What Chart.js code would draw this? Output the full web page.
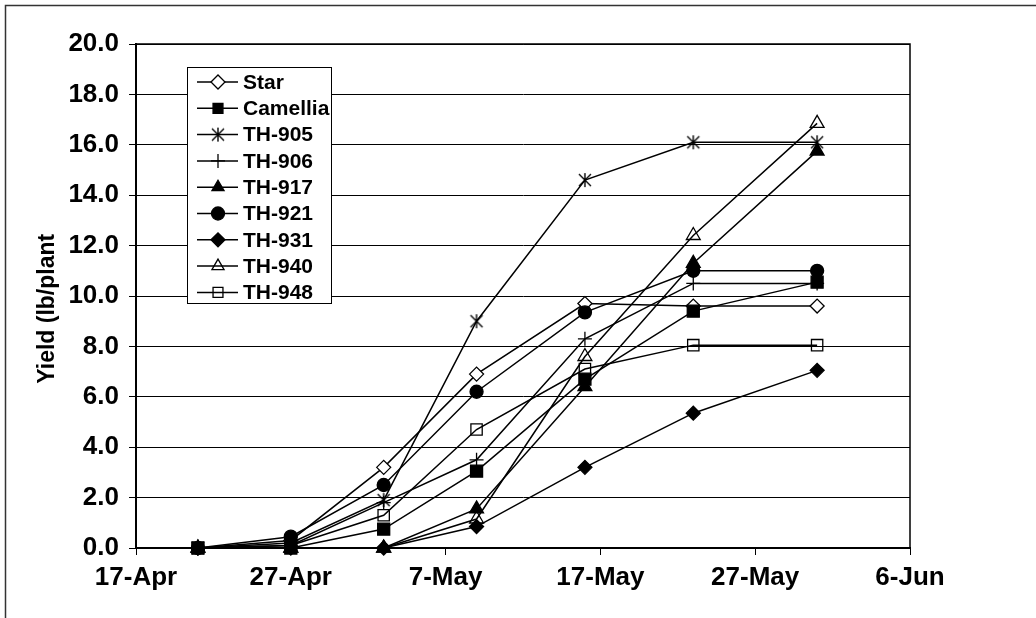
<!DOCTYPE html>
<html>
<head>
<meta charset="utf-8">
<script src="https://cdn.jsdelivr.net/npm/chart.js@4.4.0/dist/chart.umd.min.js"></script>
<style>
  html, body { margin: 0; padding: 0; background: #fff; }
  canvas { display: block; }
</style>
</head>
<body>
<canvas id="yieldChart" width="1036" height="618"></canvas>
<script>
// Harvest dates and cumulative yield per variety (lb/plant)
const sampleDates = ['21-Apr', '27-Apr', '3-May', '9-May', '16-May', '23-May', '31-May'];
const tickLabels = ['17-Apr', '27-Apr', '7-May', '17-May', '27-May', '6-Jun'];
const yTicks = [0, 2, 4, 6, 8, 10, 12, 14, 16, 18, 20];

const star     = [0, 0.3, 3.2, 6.9, 9.7, 9.6, 9.6];
const camellia = [0, 0, 0.75, 3.05, 6.7, 9.4, 10.55];
const th905    = [0, 0.2, 1.9, 9.0, 14.6, 16.1, 16.1];
const th906    = [0, 0.1, 1.8, 3.5, 8.3, 10.5, 10.5];
const th917    = [0, 0, 0, 1.55, 6.4, 11.3, 15.75];
const th921    = [0, 0.45, 2.5, 6.2, 9.35, 11.0, 11.0];
const th931    = [0, 0, 0, 0.85, 3.2, 5.35, 7.05];
const th940    = [0, 0, 0, 1.15, 7.6, 12.4, 16.85];
const th948    = [0, 0.1, 1.3, 4.7, 7.1, 8.05, 8.05];

// days counted from 17-Apr
function dayOffset(label) {
    const [d, m] = label.split('-');
    const monthStart = { Apr: 0, May: 30, Jun: 61 };
    return monthStart[m] + Number(d) - 17;
}
const xDays = sampleDates.map(dayOffset);
const xMax = dayOffset(tickLabels[tickLabels.length - 1]);

// Excel style asterisk: X plus a vertical stroke
function asteriskMarker() {
    const c = document.createElement('canvas');
    c.width = 16; c.height = 16;
    const g = c.getContext('2d');
    g.strokeStyle = '#000';
    g.lineWidth = 1.4;
    g.beginPath();
    g.moveTo(2, 2); g.lineTo(14, 14);
    g.moveTo(14, 2); g.lineTo(2, 14);
    g.moveTo(8, 1); g.lineTo(8, 15);
    g.stroke();
    return c;
}

const NONE = 'rgba(0,0,0,0)';
const series = [
    { label: 'Star',     data: star,     style: 'rectRot',  fill: '#fff', r: 7 },
    { label: 'Camellia', data: camellia, style: 'rect',     fill: '#000', r: 8.5 },
    { label: 'TH-905',   data: th905,    style: asteriskMarker(), fill: '#000', r: 8 },
    { label: 'TH-906',   data: th906,    style: 'cross',    fill: '#000', r: 7 },
    { label: 'TH-917',   data: th917,    style: 'triangle', fill: '#000', r: 8 },
    { label: 'TH-921',   data: th921,    style: 'circle',   fill: '#000', r: 6.5 },
    { label: 'TH-931',   data: th931,    style: 'rectRot',  fill: '#000', r: 7 },
    { label: 'TH-940',   data: th940,    style: 'triangle', fill: NONE,   r: 8 },
    { label: 'TH-948',   data: th948,    style: 'rect',     fill: NONE,   r: 8 }
];

const datasets = series.map((s, i) => ({
    label: s.label,
    data: s.data.map((v, j) => ({ x: xDays[j], y: v })),
    borderColor: '#000',
    backgroundColor: s.fill,
    borderWidth: 1.5,
    pointStyle: s.style,
    pointRadius: s.r,
    pointHoverRadius: s.r,
    pointBackgroundColor: s.fill,
    pointBorderColor: '#000',
    pointBorderWidth: 1.3,
    tension: 0,
    fill: false,
    clip: false,
    order: series.length - i   // later series on top, like Excel
}));

// outer frame + white background
const framePlugin = {
    id: 'frame',
    beforeDraw(chart) {
        const ctx = chart.ctx;
        ctx.save();
        ctx.fillStyle = '#fff';
        ctx.fillRect(0, 0, chart.width, chart.height);
        ctx.strokeStyle = '#333';
        ctx.lineWidth = 1.5;
        ctx.strokeRect(5.5, 5.5, chart.width + 20, chart.height + 20);
        ctx.restore();
    },
    afterDraw(chart) {
        const a = chart.chartArea;
        const ctx = chart.ctx;
        ctx.save();
        ctx.strokeStyle = '#000';
        ctx.lineWidth = 1.5;
        ctx.beginPath();
        ctx.moveTo(a.left, a.top);
        ctx.lineTo(a.right, a.top);
        ctx.lineTo(a.right, a.bottom);
        ctx.stroke();
        ctx.restore();
    }
};

// legend box inside the plot, Excel style (line + marker + label)
const boxLegend = {
    id: 'boxLegend',
    afterDatasetsDraw(chart) {
        const ctx = chart.ctx;
        const x0 = 187, y0 = 67, w = 144, h = 236;
        const rowH = 26.3;
        ctx.save();
        ctx.fillStyle = '#fff';
        ctx.fillRect(x0, y0, w, h);
        ctx.strokeStyle = '#000';
        ctx.lineWidth = 1;
        ctx.strokeRect(x0 + 0.5, y0 + 0.5, w, h);
        ctx.font = 'bold 21px "Liberation Sans", Arial, sans-serif';
        ctx.textBaseline = 'middle';
        chart.data.datasets.forEach((ds, i) => {
            const y = y0 + 15 + i * rowH;
            ctx.strokeStyle = '#000';
            ctx.lineWidth = 1.5;
            ctx.beginPath();
            ctx.moveTo(x0 + 10, y);
            ctx.lineTo(x0 + 51, y);
            ctx.stroke();
            ctx.fillStyle = ds.pointBackgroundColor;
            ctx.lineWidth = 1.3;
            Chart.helpers.drawPoint(ctx, {
                pointStyle: ds.pointStyle,
                radius: Math.min(ds.pointRadius, 7),
                rotation: 0,
                borderWidth: 1.3
            }, x0 + 31, y);
            ctx.fillStyle = '#000';
            ctx.fillText(ds.label, x0 + 56, y + 1);
        });
        ctx.restore();
    }
};

const tickFont = { family: '"Liberation Sans", Arial, sans-serif', size: 26, weight: 'bold' };

new Chart(document.getElementById('yieldChart').getContext('2d'), {
    type: 'line',
    data: { datasets: datasets },
    options: {
        responsive: false,
        animation: false,
        events: [],
        layout: { padding: { left: 10, top: 44, right: 126, bottom: 15 } },
        plugins: { legend: { display: false }, tooltip: { enabled: false } },
        scales: {
            x: {
                type: 'linear',
                min: 0,
                max: xMax,
                afterBuildTicks: (scale) => {
                    scale.ticks = tickLabels.map(t => ({ value: dayOffset(t) }));
                },
                afterFit: (scale) => { scale.height = 55; },
                ticks: {
                    color: '#000',
                    font: tickFont,
                    padding: 7,
                    maxRotation: 0,
                    callback: (value) => tickLabels[Math.round(value / 10)]
                },
                grid: { drawOnChartArea: false, drawTicks: true, tickLength: 7, color: '#000' },
                border: { display: true, color: '#000', width: 2 }
            },
            y: {
                min: 0,
                max: 20,
                afterBuildTicks: (scale) => {
                    scale.ticks = yTicks.map(v => ({ value: v }));
                },
                afterFit: (scale) => { scale.width = 126; },
                ticks: {
                    color: '#000',
                    font: tickFont,
                    padding: 10,
                    callback: (value) => value.toFixed(1)
                },
                grid: { color: '#000', lineWidth: 1, tickLength: 7 },
                border: { display: true, color: '#000', width: 2 },
                title: {
                    display: true,
                    text: 'Yield (lb/plant    ',
                    color: '#000',
                    font: { family: '"Liberation Sans", Arial, sans-serif', size: 23, weight: 'bold' },
                    padding: { top: 24, bottom: 0 }
                }
            }
        }
    },
    plugins: [framePlugin, boxLegend]
});
</script>
</body>
</html>
